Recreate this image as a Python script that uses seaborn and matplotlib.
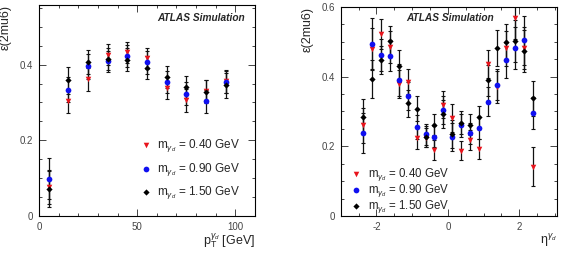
import numpy as np
import pandas as pd
import matplotlib
matplotlib.use("Agg")
import matplotlib.pyplot as plt
import seaborn as sns

# --- data ---
pt_bins = [5, 15, 25, 35, 45, 55, 65, 75, 85, 95]
pt_m040 = [0.076, 0.303, 0.361, 0.426, 0.432, 0.417, 0.338, 0.306, 0.330, 0.356]
pt_m090 = [0.099, 0.334, 0.396, 0.409, 0.423, 0.406, 0.354, 0.323, 0.303, 0.354]
pt_m150 = [0.072, 0.358, 0.406, 0.415, 0.413, 0.392, 0.367, 0.341, 0.328, 0.345]
pt_err040 = [0.045, 0.030, 0.030, 0.028, 0.028, 0.028, 0.028, 0.030, 0.030, 0.030]
pt_err090 = [0.055, 0.033, 0.033, 0.028, 0.030, 0.030, 0.030, 0.030, 0.030, 0.030]
pt_err150 = [0.048, 0.036, 0.032, 0.030, 0.030, 0.030, 0.030, 0.030, 0.030, 0.032]

eta_bins = [-2.375, -2.125, -1.875, -1.625, -1.375, -1.125, -0.875, -0.625, -0.375, -0.125,
            0.125, 0.375, 0.625, 0.875, 1.125, 1.375, 1.625, 1.875, 2.125, 2.375]
eta_m040 = [0.260, 0.479, 0.522, 0.485, 0.379, 0.386, 0.224, 0.225, 0.190, 0.320,
            0.282, 0.188, 0.218, 0.192, 0.435, 0.370, 0.481, 0.568, 0.481, 0.142]
eta_m090 = [0.238, 0.495, 0.462, 0.460, 0.390, 0.344, 0.255, 0.234, 0.227, 0.303,
            0.228, 0.260, 0.237, 0.253, 0.328, 0.377, 0.447, 0.481, 0.504, 0.296]
eta_m150 = [0.285, 0.394, 0.448, 0.501, 0.430, 0.323, 0.308, 0.227, 0.262, 0.294,
            0.235, 0.267, 0.262, 0.283, 0.389, 0.482, 0.500, 0.502, 0.474, 0.338]
eta_err040 = [0.050, 0.060, 0.042, 0.045, 0.040, 0.035, 0.032, 0.028, 0.028, 0.040,
              0.040, 0.028, 0.028, 0.028, 0.040, 0.045, 0.050, 0.060, 0.060, 0.057]
eta_err090 = [0.058, 0.074, 0.045, 0.045, 0.045, 0.040, 0.035, 0.030, 0.030, 0.040,
              0.040, 0.032, 0.030, 0.032, 0.042, 0.045, 0.050, 0.060, 0.070, 0.046]
eta_err150 = [0.050, 0.055, 0.040, 0.045, 0.045, 0.040, 0.035, 0.030, 0.030, 0.040,
              0.040, 0.033, 0.030, 0.033, 0.045, 0.052, 0.052, 0.060, 0.060, 0.050]

labels = [r"m$_{\gamma_d}$ = 0.40 GeV", r"m$_{\gamma_d}$ = 0.90 GeV", r"m$_{\gamma_d}$ = 1.50 GeV"]
colors = ["#e8141c", "#1010f0", "#000000"]
markers = ["v", "o", "D"]
sizes = [16, 17, 10]

sns.set_style("ticks")
plt.rcParams["font.family"] = ["Liberation Sans", "DejaVu Sans"]
plt.rcParams["mathtext.fontset"] = "custom"
plt.rcParams["mathtext.rm"] = "Liberation Sans"
plt.rcParams["mathtext.it"] = "Liberation Sans:italic"
plt.rcParams["mathtext.bf"] = "Liberation Sans:bold"

fig = plt.figure(figsize=(5.67, 2.56), dpi=100)
ax1 = fig.add_axes([0.0688, 0.156, 0.381, 0.824])
ax2 = fig.add_axes([0.601, 0.156, 0.381, 0.817])


def draw(ax, x, series, errs):
    for y, e, lab, c, m, s in zip(series, errs, labels, colors, markers, sizes):
        ax.errorbar(x, y, yerr=e, fmt="none", ecolor="#111111", elinewidth=0.9,
                    capsize=1.2, capthick=0.8, zorder=2)
        df = pd.DataFrame({"x": x, "y": y})
        sns.scatterplot(data=df, x="x", y="y", ax=ax, color=c, marker=m, s=s,
                        linewidth=0, label=lab, zorder=3)


def style(ax):
    for sp in ax.spines.values():
        sp.set_visible(True)
        sp.set_linewidth(0.8)
        sp.set_color("black")
    ax.tick_params(which="both", direction="in", top=True, right=True,
                   labelsize=7, labelcolor="#444444", pad=4)
    ax.tick_params(which="major", length=5, width=0.6)
    ax.tick_params(which="minor", length=2.5, width=0.6)


draw(ax1, pt_bins, [pt_m040, pt_m090, pt_m150], [pt_err040, pt_err090, pt_err150])
ax1.set_xlim(0, 110)
ax1.set_ylim(0, 0.557)
ax1.set_xticks([0, 50, 100])
ax1.set_xticks(np.arange(0, 111, 10), minor=True)
ax1.set_yticks([0, 0.2, 0.4])
ax1.set_yticklabels(["0", "0.2", "0.4"])
ax1.set_yticks(np.arange(0, 0.56, 0.05), minor=True)
style(ax1)
ax1.set_xlabel(r"p$_\mathrm{T}^{\gamma_d}$ [GeV]", loc="right", fontsize=9, labelpad=0)
ax1.set_ylabel("ε(2mu6)", loc="top", fontsize=9, labelpad=6)
ax1.text(0.748, 0.938, "ATLAS Simulation", transform=ax1.transAxes, ha="center",
         va="center", fontsize=7.3, fontweight="bold", fontstyle="italic")
ax1.legend(loc="lower right", bbox_to_anchor=(0.93, 0.07), frameon=False, fontsize=8.5,
           labelspacing=0.55, handletextpad=0.3, handlelength=1.2, borderaxespad=0,
           borderpad=0)

draw(ax2, eta_bins, [eta_m040, eta_m090, eta_m150], [eta_err040, eta_err090, eta_err150])
ax2.set_xlim(-3, 3.05)
ax2.set_ylim(0, 0.6)
ax2.set_xticks([-2, 0, 2])
ax2.set_xticklabels(["-2", "0", "2"])
ax2.set_xticks(np.arange(-3, 3.01, 0.5), minor=True)
ax2.set_yticks([0, 0.2, 0.4, 0.6])
ax2.set_yticklabels(["0", "0.2", "0.4", "0.6"])
ax2.set_yticks(np.arange(0, 0.61, 0.05), minor=True)
style(ax2)
ax2.set_xlabel(r"$\mathrm{\eta}^{\gamma_d}$", loc="right", fontsize=9, labelpad=0)
ax2.set_ylabel("ε(2mu6)", loc="top", fontsize=9, labelpad=6)
ax2.text(0.507, 0.947, "ATLAS Simulation", transform=ax2.transAxes, ha="center",
         va="center", fontsize=7.3, fontweight="bold", fontstyle="italic")
ax2.legend(loc="lower left", bbox_to_anchor=(0.04, 0.005), frameon=False, fontsize=8.3,
           labelspacing=-0.08, handletextpad=0.4, handlelength=1.2, borderaxespad=0,
           borderpad=0)

fig.savefig("out.png", dpi=100)
